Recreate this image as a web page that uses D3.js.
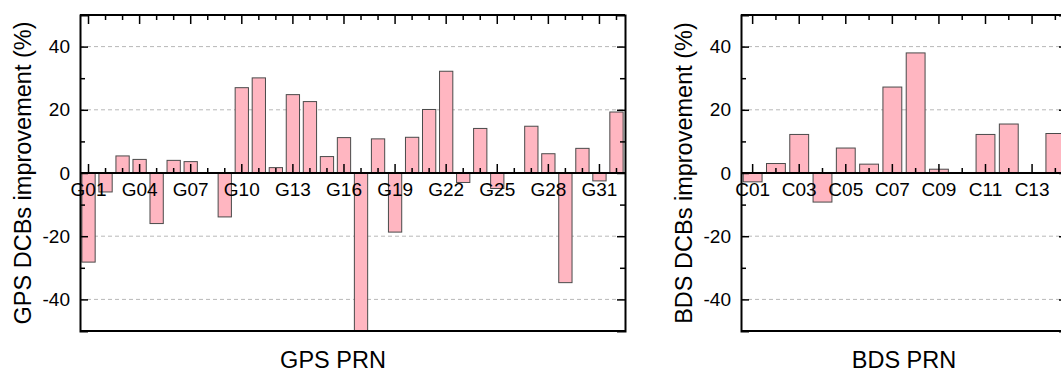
<!DOCTYPE html>
<html>
<head>
  <meta charset="utf-8">
  <script src="https://d3js.org/d3.v7.min.js"></script>
  <style>
    body { margin: 0; background: #fff; }
    svg { display: block; font-family: "Liberation Sans", Arial, sans-serif; }
    .axis text { font-size: 19px; fill: #000; }
    .axis .domain { stroke: #000; stroke-width: 2; }
    .axis line { stroke: #000; stroke-width: 1.5; }
    .title { font-size: 23.5px; fill: #000; }
  </style>
</head>
<body>
<svg id="chart" width="1061" height="374"></svg>
<script>
  // GPS satellites and DCB improvement (%)
  var gpsPrn = d3.range(1, 33).map(function(i) { return "G" + (i < 10 ? "0" + i : i); });
  var gpsValues = [-28.2, -6.0, 5.4, 4.3, -16.0, 4.0, 3.6, 0, -13.9, 27.0,
                   30.1, 1.7, 24.8, 22.6, 5.2, 11.2, -52, 10.8, -18.7, 11.3,
                   20.1, 32.2, -3.0, 14.1, -4.9, 0, 14.8, 6.1, -34.7, 7.8,
                   -2.5, 19.3];
  var gpsLabels = ["G01", "G04", "G07", "G10", "G13", "G16", "G19", "G22", "G25", "G28", "G31"];

  // BDS satellites and DCB improvement (%)
  var bdsPrn = d3.range(1, 15).map(function(i) { return "C" + (i < 10 ? "0" + i : i); });
  var bdsValues = [-2.8, 3.0, 12.2, -9.2, 7.9, 2.8, 27.2, 38.0, 1.2, 0,
                   12.2, 15.5, 0, 12.5];
  var bdsLabels = ["C01", "C03", "C05", "C07", "C09", "C11", "C13"];

  var yMajor = [-40, -20, 0, 20, 40],
      yMinor = [-30, -10, 10, 30],
      yGrid = [-40, -20, 20, 40];

  var svg = d3.select("#chart");

  function drawPanel(o) {
    var x = d3.scaleBand().domain(o.prn).range([o.left, o.right])
          .paddingInner(o.pad).paddingOuter(o.pad / 2);
    var y = d3.scaleLinear().domain([-50, 50]).range([331, 15]);
    var g = svg.append("g");
    var clipId = "clip-" + o.name;
    var minorPrn = o.prn.filter(function(p) { return o.labels.indexOf(p) < 0; });
    var data = o.prn.map(function(p, i) { return { prn: p, v: o.values[i] }; })
          .filter(function(d) { return d.v !== 0; });

    g.append("clipPath").attr("id", clipId).append("rect")
      .attr("x", o.left).attr("y", 15)
      .attr("width", o.right - o.left).attr("height", 316);

    // dashed grid
    g.selectAll(".grid").data(yGrid).enter().append("line")
      .attr("x1", o.left).attr("x2", o.right)
      .attr("y1", function(d) { return y(d); }).attr("y2", function(d) { return y(d); })
      .attr("stroke", "#b8b8b8").attr("stroke-dasharray", "4,3");

    // bars
    g.append("g").attr("clip-path", "url(#" + clipId + ")")
      .selectAll("rect").data(data).enter().append("rect")
      .attr("x", function(d) { return x(d.prn); })
      .attr("width", x.bandwidth())
      .attr("y", function(d) { return y(Math.max(0, d.v)); })
      .attr("height", function(d) { return Math.abs(y(d.v) - y(0)); })
      .attr("fill", "#ffb6c1").attr("stroke", "#4a4a4a").attr("stroke-width", 1);

    // left axis
    g.append("g").attr("class", "axis").attr("transform", "translate(" + o.left + ",0)")
      .call(d3.axisLeft(y).tickValues(yMajor).tickSize(-8).tickPadding(10)
        .tickFormat(function(d) { return String(d); }));
    g.append("g").attr("class", "axis").attr("transform", "translate(" + o.left + ",0)")
      .call(d3.axisLeft(y).tickValues(yMinor).tickSize(-5).tickFormat(""))
      .select(".domain").remove();

    // right axis
    g.append("g").attr("class", "axis").attr("transform", "translate(" + o.right + ",0)")
      .call(d3.axisRight(y).tickValues(yMajor).tickSize(-8).tickFormat(""));
    g.append("g").attr("class", "axis").attr("transform", "translate(" + o.right + ",0)")
      .call(d3.axisRight(y).tickValues(yMinor).tickSize(-5).tickFormat(""))
      .select(".domain").remove();

    // top border ticks
    g.append("g").attr("class", "axis").attr("transform", "translate(0,15)")
      .call(d3.axisTop(x).tickValues(o.labels).tickSize(-9).tickFormat(""))
      .select(".domain").attr("d", "M" + o.left + ",0H" + o.right);
    g.append("g").attr("class", "axis").attr("transform", "translate(0,15)")
      .call(d3.axisTop(x).tickValues(minorPrn).tickSize(-5).tickFormat(""))
      .select(".domain").remove();

    // bottom border
    g.append("line").attr("x1", o.left).attr("x2", o.right)
      .attr("y1", 331).attr("y2", 331).attr("stroke", "#000").attr("stroke-width", 2);

    // zero line with category labels
    g.append("g").attr("class", "axis").attr("transform", "translate(0," + y(0) + ")")
      .call(d3.axisBottom(x).tickValues(o.labels).tickSize(-9).tickPadding(10))
      .select(".domain").attr("d", "M" + o.left + ",0H" + o.right);
    g.append("g").attr("class", "axis").attr("transform", "translate(0," + y(0) + ")")
      .call(d3.axisBottom(x).tickValues(minorPrn).tickSize(-5).tickFormat(""))
      .select(".domain").remove();

    // titles
    g.append("text").attr("class", "title")
      .attr("transform", "translate(" + (o.left - 49) + "," + ((15 + 331) / 2) + ") rotate(-90)")
      .attr("text-anchor", "middle")
      .text(o.yTitle);
    g.append("text").attr("class", "title")
      .attr("x", o.xTitleX).attr("y", 368)
      .attr("text-anchor", "middle")
      .text(o.xTitle);
  }

  drawPanel({ name: "gps", prn: gpsPrn, values: gpsValues, labels: gpsLabels,
              left: 80, right: 625, pad: 0.22,
              yTitle: "GPS DCBs improvement (%)", xTitle: "GPS PRN", xTitleX: 333 });
  drawPanel({ name: "bds", prn: bdsPrn, values: bdsValues, labels: bdsLabels,
              left: 741, right: 1067, pad: 0.19,
              yTitle: "BDS DCBs improvement (%)", xTitle: "BDS PRN", xTitleX: 904 });
</script>
</body>
</html>
